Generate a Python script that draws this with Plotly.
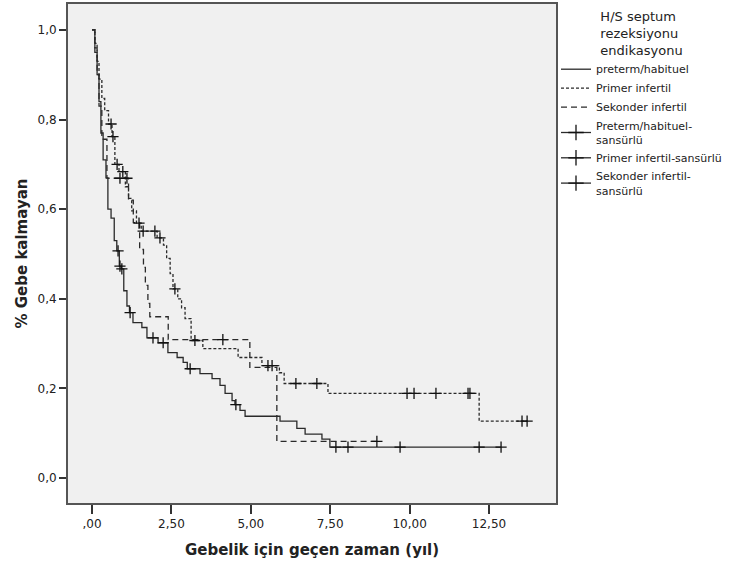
import plotly.graph_objects as go

# ---------------- data ----------------
# Kaplan-Meier steps: time (years) at which survival changes, and survival from then on
pre_t = [0.00, 0.09, 0.16, 0.22, 0.28, 0.35, 0.44, 0.50, 0.60, 0.70, 0.78, 0.86, 0.92,
         1.00, 1.10, 1.18, 1.29, 1.57, 1.73, 2.08, 2.39, 2.68, 2.87, 3.00, 3.40, 3.78,
         4.03, 4.19, 4.41, 4.50, 4.66, 4.82, 5.92, 6.45, 6.71, 7.24, 7.49]
pre_s = [1.000, 0.950, 0.900, 0.840, 0.770, 0.710, 0.670, 0.600, 0.580, 0.530, 0.507,
         0.473, 0.467, 0.418, 0.384, 0.369, 0.347, 0.336, 0.313, 0.302, 0.280, 0.269,
         0.258, 0.244, 0.233, 0.222, 0.207, 0.189, 0.173, 0.164, 0.151, 0.138, 0.127,
         0.111, 0.098, 0.087, 0.069]
pre_cens = [0.82, 0.88, 0.94, 1.20, 1.92, 2.24, 3.09, 4.53, 7.68, 8.06, 9.70, 12.19, 12.88]

pri_t = [0.00, 0.09, 0.16, 0.22, 0.31, 0.40, 0.52, 0.63, 0.72, 0.85, 1.05, 1.15, 1.25,
         1.40, 1.55, 2.05, 2.25, 2.35, 2.46, 2.55, 2.70, 2.82, 2.93, 3.12, 3.49, 4.60,
         5.35, 5.90, 6.05, 7.43, 12.19]
pri_s = [1.000, 0.970, 0.930, 0.890, 0.847, 0.820, 0.790, 0.762, 0.700, 0.684, 0.650,
         0.624, 0.596, 0.569, 0.551, 0.536, 0.520, 0.490, 0.456, 0.422, 0.400, 0.380,
         0.356, 0.307, 0.289, 0.269, 0.251, 0.235, 0.211, 0.189, 0.127]
pri_cens = [0.60, 0.66, 0.79, 0.97, 1.48, 1.61, 1.98, 2.14, 2.61, 3.24, 5.54, 5.67,
            6.42, 7.08, 9.92, 10.14, 10.83, 11.84, 11.90, 13.54, 13.70]

sek_t = [0.00, 0.09, 0.16, 0.22, 0.31, 0.47, 1.15, 1.30, 1.50, 1.62, 1.68, 1.76, 1.82,
         2.40, 4.97, 5.82]
sek_s = [1.000, 0.960, 0.900, 0.830, 0.756, 0.669, 0.620, 0.570, 0.510, 0.470, 0.430,
         0.390, 0.360, 0.309, 0.247, 0.082]
sek_cens = [0.88, 1.10, 4.12, 8.97]

group_names = ["preterm/habituel", "Primer infertil", "Sekonder infertil"]
censor_names = ["Preterm/habituel-<br>sansürlü", "Primer infertil-sansürlü",
                "Sekonder infertil-<br>sansürlü"]

x_tickvals = [0, 2.5, 5, 7.5, 10, 12.5]
x_ticktext = [",00", "2,50", "5,00", "7,50", "10,00", "12,50"]
y_tickvals = [0, 0.2, 0.4, 0.6, 0.8, 1.0]
y_ticktext = ["0,0", "0,2", "0,4", "0,6", "0,8", "1,0"]

# ---------------- figure ----------------
LINE_COL = "#2a2a2a"
dashes = ["solid", "3px,2px", "6px,4px"]


def surv_at(times, surv, t):
    s = surv[0]
    for ti, si in zip(times, surv):
        if ti <= t:
            s = si
    return s


fig = go.Figure()
series = [(pre_t, pre_s, pre_cens), (pri_t, pri_s, pri_cens), (sek_t, sek_s, sek_cens)]

for (tt, ss, cc), name, dash in zip(series, group_names, dashes):
    end_t = max(tt[-1], max(cc))
    fig.add_trace(go.Scatter(
        x=tt + [end_t], y=ss + [ss[-1]], mode="lines", name=name,
        line=dict(color=LINE_COL, width=1.3, dash=dash, shape="hv"),
        hoverinfo="skip"))

for (tt, ss, cc) in series:
    fig.add_trace(go.Scatter(
        x=cc, y=[surv_at(tt, ss, c) for c in cc], mode="markers", showlegend=False,
        marker=dict(symbol="cross-thin", size=8, line=dict(color="#111111", width=1.3)),
        hoverinfo="skip"))

for name in censor_names:
    fig.add_trace(go.Scatter(
        x=[None], y=[None], mode="lines+markers", name=name,
        line=dict(color=LINE_COL, width=1.3),
        marker=dict(symbol="cross-thin", size=11, line=dict(color="#111111", width=1.3))))

fig.update_layout(
    width=733, height=564,
    margin=dict(l=68, r=177, t=2, b=61),
    paper_bgcolor="white",
    plot_bgcolor="#f0f0f0",
    font=dict(family="DejaVu Sans", color="#222222", size=12),
    legend=dict(
        x=1.0, y=1.0, xanchor="left", yanchor="top",
        bgcolor="rgba(0,0,0,0)", itemwidth=30, tracegroupgap=0,
        font=dict(size=11, family="DejaVu Sans", color="#222222"),
        title=dict(text="H/S septum<br>rezeksiyonu<br>endikasyonu", side="top center",
                   font=dict(size=13, family="DejaVu Sans", color="#222222")),
    ),
    xaxis=dict(
        range=[-0.756, 14.61], tickvals=x_tickvals, ticktext=x_ticktext,
        showgrid=False, zeroline=False, showline=True, mirror=True,
        linecolor="#555555", linewidth=2, ticks="outside", ticklen=9, tickwidth=1.5,
        tickcolor="#333333", tickfont=dict(size=12),
        title=dict(text="<b>Gebelik için geçen zaman (yıl)</b>", font=dict(size=15),
                   standoff=14),
    ),
    yaxis=dict(
        range=[-0.0556, 1.0578], tickvals=y_tickvals, ticktext=y_ticktext,
        showgrid=False, zeroline=False, showline=True, mirror=True,
        linecolor="#555555", linewidth=2, ticks="outside", ticklen=7, tickwidth=1.5,
        tickcolor="#333333", tickfont=dict(size=12),
        title=dict(text="<b>% Gebe kalmayan</b>", font=dict(size=15), standoff=6),
    ),
)

fig.write_html("out.html")
